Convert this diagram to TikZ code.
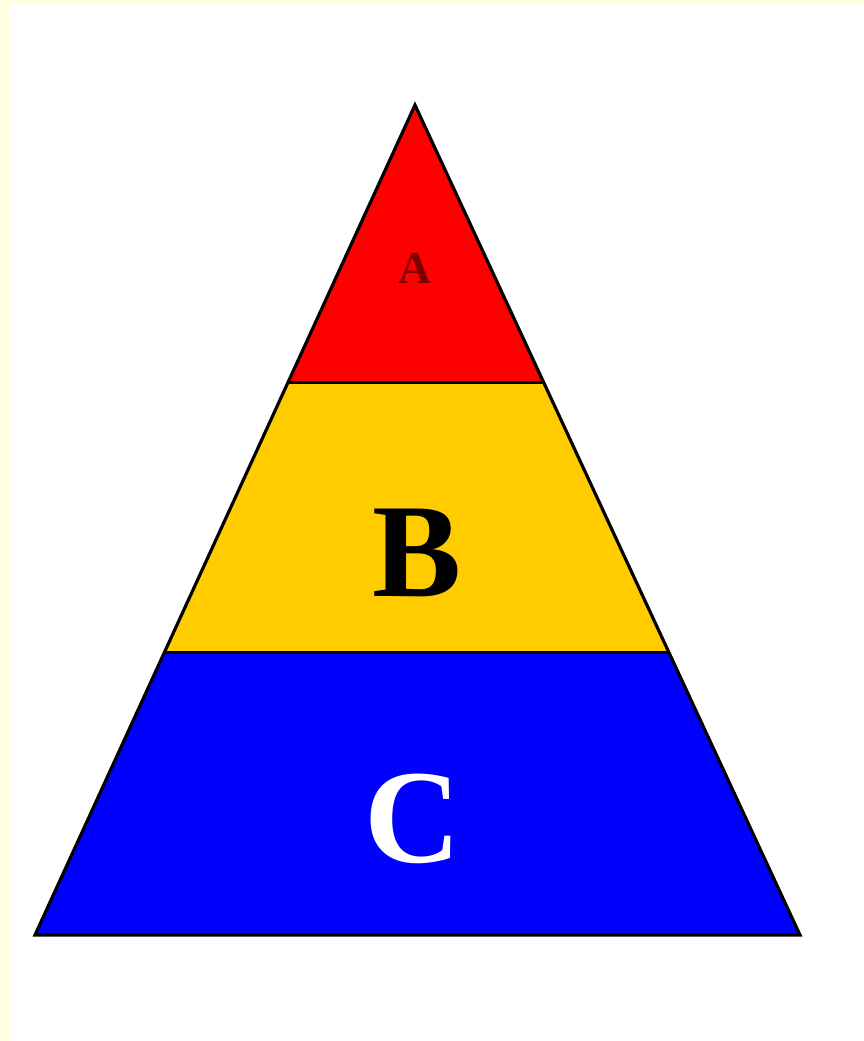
\documentclass[tikz,border=0pt]{standalone}
\usepackage{fontspec}
\setmainfont{Liberation Serif}
\usetikzlibrary{calc}
\definecolor{paleyellow}{RGB}{255,255,224}
\definecolor{layerred}{RGB}{255,0,0}
\definecolor{layeryellow}{RGB}{255,204,0}
\definecolor{layerblue}{RGB}{0,0,255}
\definecolor{letterred}{RGB}{125,0,0}

\begin{document}
\begin{tikzpicture}[x=0.01cm,y=-0.01cm]
\useasboundingbox (0,0) rectangle (864,1041);
\fill[paleyellow] (0,0) rectangle (864,1041);
\fill[white] (9,4) rectangle (864,1041);
% corners of the pyramid and the layer borders
\coordinate (apex) at (415,105);
\coordinate (bl) at (35,935);
\coordinate (br) at (800,935);
\coordinate (abl) at ($(apex)!0.334!(bl)$);
\coordinate (abr) at ($(apex)!0.334!(br)$);
\coordinate (bcl) at ($(apex)!0.660!(bl)$);
\coordinate (bcr) at ($(apex)!0.660!(br)$);
% layers
\fill[layerred] (apex) -- (abl) -- (abr) -- cycle;
\fill[layeryellow] (abl) -- (bcl) -- (bcr) -- (abr) -- cycle;
\fill[layerblue] (bcl) -- (bl) -- (br) -- (bcr) -- cycle;
\draw[line width=0.9pt,line join=miter] (apex) -- (bl) -- (br) -- cycle;
\draw[line width=0.9pt] (abl) -- (abr);
\draw[line width=0.9pt] (bcl) -- (bcr);
% labels
\node[text=letterred,font=\bfseries\fontsize{13}{13}\selectfont] (la) at (415,268) {A};
\node[text=black,font=\bfseries\fontsize{38}{38}\selectfont] (lb) at (417,553) {B};
\node[text=white,font=\bfseries\fontsize{38}{38}\selectfont] (lc) at (413,819) {C};
\end{tikzpicture}
\end{document}
